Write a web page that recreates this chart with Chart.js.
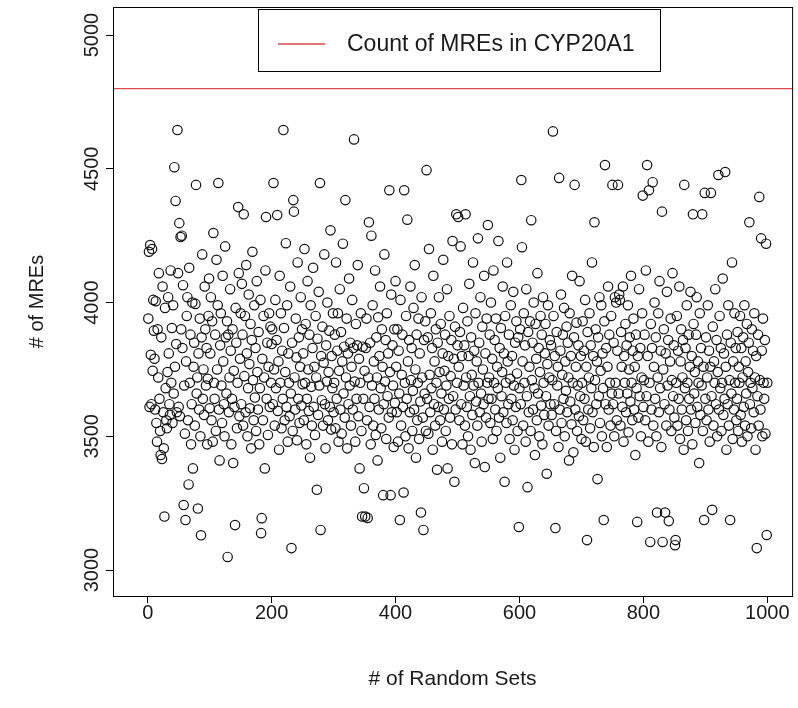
<!DOCTYPE html>
<html>
<head>
<meta charset="utf-8">
<script src="https://cdn.jsdelivr.net/npm/chart.js@4/dist/chart.umd.min.js"></script>
<style>
  html, body { margin: 0; padding: 0; background: #fff; }
</style>
</head>
<body>
<canvas id="myChart" width="798" height="708"></canvas>
<script>
// # of MREs for each random set (in order of set index)
var mreCounts = [
 3940,4190,3610,4215,3805,3620,4200,3745,4010,3895,3790,3600,4005,3550,3480,3900,3720,4110,3640,3520,3430,3870,3415,4060,3590,3455,3200,3980,3680,3560,3530,3740,4020,3810,3620,3580,4120,3700,3905,3550,3990,3660,4506,3760,4380,3845,3590,4645,4110,3610,
 4297,3575,4245,3900,4250,3830,4065,3243,3690,3510,3187,3780,3950,4020,3560,3320,4130,3700,3880,3470,3620,4000,3380,3760,3850,3540,3995,4440,3660,3720,3230,3810,3600,3940,3500,3130,3870,4180,3640,3750,3580,4060,3900,3690,3830,3470,3715,3950,4090,3605,
 3810,4020,3560,3930,3480,4260,3700,3640,3880,3520,4160,3750,3990,4447,3600,3410,3840,3960,3690,3550,4100,3780,3620,3500,4210,3870,3660,3930,3049,3880,3590,3720,4050,3820,3470,3640,3900,3400,3745,3610,3168,3980,3850,3530,3700,4357,4110,3575,3790,3960,
 3620,4070,3880,3540,4330,3725,3950,3590,4140,3810,3500,3680,4030,3770,3605,3920,3455,3860,4190,3710,3560,3990,3645,3830,3520,4080,3740,3600,3890,3470,3680,4010,3138,3194,3790,3560,3950,3720,3380,4120,4320,3640,3850,3505,3760,3960,3610,3910,3700,3845,
 3900,3620,4447,3750,3540,4010,3680,3860,4327,3595,3780,3450,4100,3700,3960,3530,3820,3640,4645,3905,3560,3740,4222,3610,3990,3480,3810,3700,3575,4060,3660,3082,3850,3520,4383,4340,3720,3600,3940,3795,3485,4150,3640,3870,3550,3760,4020,3615,3900,3695,
 3810,3560,4200,3700,3920,3470,3640,4080,3750,3595,3880,3420,3990,3685,3540,3830,4130,3610,3760,3505,3950,3720,3300,3865,3580,4040,3690,4447,3150,3800,3635,3910,3540,3775,4180,3620,3455,3840,3705,4000,3560,3740,3895,3610,4270,3525,3800,3680,3960,3590,
 3700,3880,3530,4150,3640,3820,3960,3480,3745,4050,3600,3890,3510,3780,4220,3660,3835,3570,4383,3720,3940,3455,3810,3620,4090,3690,3850,3540,3760,4010,3600,3830,4610,3705,3480,3920,3640,3840,4140,3575,3790,3380,3700,3960,3520,3200,3835,3640,3306,3745,
 3200,3830,3940,3560,3195,3720,4300,3610,3850,3470,4250,3690,3990,3540,3780,3640,4120,3505,3870,3720,3410,3945,3600,3800,4060,3680,3530,3900,3760,3280,3620,4180,3705,3860,3490,3960,3650,3810,3570,4420,3740,3280,4030,3590,3840,3690,3460,3900,3625,4080,
 3760,3590,3900,3480,3820,3660,3187,4010,3540,3730,3880,3610,3290,4420,3700,3500,3950,3640,4310,3780,3455,3860,3590,4060,3710,3830,3520,3670,3980,3600,4140,3750,3420,3880,3560,3700,3940,3490,3810,3630,3215,4020,3720,3570,3150,3860,3660,3930,3520,4495,
 3640,3870,3510,4200,3730,3590,3960,3680,3830,3450,4100,3620,3780,3540,3900,3700,3375,3850,3610,4020,3740,3560,3920,3660,3480,3810,4160,3600,3745,3880,3520,3690,4050,3380,3800,3640,3950,3570,3725,3860,3470,4230,3650,3790,3330,3910,3600,4330,3700,3840,
 4320,3760,3560,3890,4210,3620,3800,3470,3980,3690,3840,3540,4330,3720,3610,3930,3500,3800,4070,3650,3450,3870,3730,3580,4150,3690,3820,3400,3960,3630,3780,3540,4240,3700,3850,3590,4020,3660,3480,3910,3750,3620,4100,3385,3810,3570,3940,3700,4290,3640,
 3720,3880,3550,4000,3640,3790,3490,4120,3700,3860,3600,3940,3520,3760,3680,4230,3570,3830,3420,3905,3650,3740,4060,3590,3810,3330,3950,3700,3550,4150,3780,3620,3880,3490,3715,3990,3640,3800,3560,4040,3690,3450,3850,3610,3930,3735,3520,3870,3161,3680,
 3900,3620,4458,4207,3780,3540,3960,3700,3840,3480,4050,3650,3310,3890,3590,3760,3930,3520,4308,3710,3850,3600,4000,3680,3430,3920,3790,3560,4110,3660,3830,3500,3740,3950,3615,3880,3470,4020,3700,3580,3810,3920,3650,3360,3770,3990,3540,3720,3860,3620,
 3840,3580,3710,4640,3950,3620,3800,3157,3520,3890,3690,3760,3460,4466,3600,3820,4030,3550,3730,3880,3640,3980,3500,3780,3670,3910,3590,3850,3720,3410,3960,3630,3800,3545,4100,3700,3440,3870,4440,3600,3760,3925,3520,3690,3840,3575,4080,3650,3800,3490,
 3700,3930,3560,3820,3640,4010,3480,3760,3112,3890,3600,3720,3960,3530,3840,3680,4150,3590,3800,3460,4300,3710,3900,3620,3780,3340,3870,3650,4020,3550,3745,3990,3500,3810,3680,3187,3930,4514,3620,3830,3460,3760,4060,3600,3880,3700,3540,3950,3660,4440,
 3620,3850,3500,4020,3700,4000,3560,3820,4440,3660,4030,4010,3540,3890,3760,3610,4060,3480,3800,3700,3920,3590,3840,3660,3990,3515,3750,3870,3630,4100,3700,3560,3820,3940,3600,3760,3430,3880,3680,3180,3800,3570,4050,3650,3830,3500,3720,3960,4400,3610,
 3710,3880,3560,4120,3650,4514,3800,3480,4420,3700,3105,3920,3600,3830,4450,3540,3760,4000,3640,3870,3500,3215,3720,3960,3590,4080,3680,3820,3460,4340,3105,3750,3900,3620,3215,3810,3540,4040,3690,3860,3183,3600,3780,3940,3520,3710,4110,3650,3840,3570,
 3093,3112,3700,3950,3540,3820,3640,4060,3490,3780,3900,3600,3720,3860,3450,4440,3680,3830,3560,3990,3700,3520,3880,3640,3760,4040,3600,3800,3470,4330,3920,3660,3740,3550,3880,4020,3610,3780,3700,3400,3960,3580,3830,3690,4330,3520,3760,3187,4410,3640,
 3870,3560,3720,3990,3600,3820,3480,3760,4410,3650,3225,3910,3540,3780,3700,4050,3620,3860,3500,3740,4477,3600,3950,3680,3830,3520,3700,4090,3580,3810,3640,4488,3760,3450,3880,3620,3990,3540,3710,3187,3850,3660,4150,3490,3780,3600,3960,3700,3830,3560,
 3640,3890,3520,3760,3700,3950,3580,3830,3480,3720,3870,3610,3990,3540,3780,3660,3920,3500,3740,3850,4300,3620,3700,3530,3900,3680,3820,3590,3960,3720,3450,3800,3082,3650,3880,3540,4395,3710,3600,4240,3820,3500,3940,3700,3640,3860,3510,4220,3131,3700
];
var cyp20a1Count = 4800;
var legendLabel = 'Count of MREs in CYP20A1';
var xTicks = [0, 200, 400, 600, 800, 1000];
var yTicks = [3000, 3500, 4000, 4500, 5000];

var points = [];
for (var i = 0; i < mreCounts.length; i++) {
    points.push({ x: i + 1, y: mreCounts[i] });
}

var font = "'Liberation Sans', Arial, Helvetica, sans-serif";
var textColor = '#1a1a1a';
var lineRed = '#df4a4a';

// R style: box round the plot, abline and an inset legend
var rPlotExtras = {
    id: 'rPlotExtras',
    afterDatasetsDraw: function (chart) {
        var ctx = chart.ctx, a = chart.chartArea;
        var yPix = chart.scales.y.getPixelForValue(cyp20a1Count);
        ctx.save();
        ctx.strokeStyle = lineRed;
        ctx.lineWidth = 1.3;
        ctx.beginPath();
        ctx.moveTo(a.left, yPix);
        ctx.lineTo(a.right, yPix);
        ctx.stroke();

        // legend box
        var bx = 258, by = 9, bw = 402, bh = 62;
        ctx.fillStyle = '#fff';
        ctx.fillRect(bx, by, bw, bh);
        ctx.strokeStyle = '#000';
        ctx.lineWidth = 1;
        ctx.strokeRect(bx + 0.5, by + 0.5, bw, bh);
        ctx.strokeStyle = lineRed;
        ctx.lineWidth = 1.3;
        ctx.beginPath();
        ctx.moveTo(bx + 20, by + 35);
        ctx.lineTo(bx + 67, by + 35);
        ctx.stroke();
        ctx.fillStyle = textColor;
        ctx.font = '23px ' + font;
        ctx.textBaseline = 'middle';
        ctx.textAlign = 'left';
        ctx.fillText(legendLabel, bx + 89, by + 36);

        ctx.strokeStyle = '#000';
        ctx.lineWidth = 1;
        ctx.strokeRect(a.left + 0.5, a.top + 0.5, a.right - a.left, a.bottom - a.top);
        ctx.restore();
    }
};

function plainTick(value) { return String(value); }

var ctx = document.getElementById('myChart').getContext('2d');
var chart = new Chart(ctx, {
    type: 'scatter',
    data: {
        datasets: [{
            label: '# of MREs',
            data: points,
            pointStyle: 'circle',
            pointRadius: 4.7,
            borderWidth: 1.2,
            borderColor: '#111',
            backgroundColor: 'rgba(0,0,0,0)'
        }]
    },
    options: {
        responsive: false,
        animation: false,
        devicePixelRatio: 1,
        layout: { padding: { top: 7, right: 5, left: 0, bottom: 0 } },
        plugins: {
            legend: { display: false },
            tooltip: { enabled: false }
        },
        scales: {
            x: {
                type: 'linear',
                min: -56,
                max: 1040,
                afterFit: function (scale) { scale.height = 112; },
                afterBuildTicks: function (scale) {
                    scale.ticks = xTicks.map(function (v) { return { value: v }; });
                },
                grid: { drawOnChartArea: false, drawTicks: true, tickLength: 7, tickColor: '#000' },
                border: { display: false },
                ticks: { font: { family: font, size: 20 }, color: textColor, padding: -2, maxRotation: 0, callback: plainTick },
                title: {
                    display: true,
                    text: '# of Random Sets',
                    font: { family: font, size: 21 },
                    color: textColor,
                    padding: { top: 0, bottom: 16 }
                }
            },
            y: {
                type: 'linear',
                min: 2903,
                max: 5105,
                afterFit: function (scale) { scale.width = 113; },
                afterBuildTicks: function (scale) {
                    scale.ticks = yTicks.map(function (v) { return { value: v }; });
                },
                grid: { drawOnChartArea: false, drawTicks: true, tickLength: 7, tickColor: '#000' },
                border: { display: false },
                ticks: { font: { family: font, size: 20 }, color: textColor, minRotation: 90, maxRotation: 90, crossAlign: 'center', padding: -9, callback: plainTick },
                title: {
                    display: true,
                    text: '# of MREs',
                    font: { family: font, size: 20 },
                    color: textColor,
                    padding: { top: 25, bottom: 0 }
                }
            }
        }
    },
    plugins: [rPlotExtras]
});
</script>
</body>
</html>
